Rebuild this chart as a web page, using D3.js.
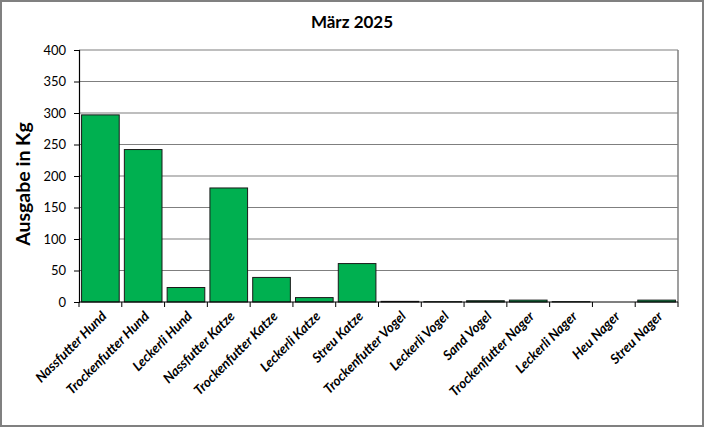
<!DOCTYPE html>
<html>
<head>
<meta charset="utf-8">
<script src="https://cdn.jsdelivr.net/npm/d3@7"></script>
<style>
  body { margin: 0; background: #fff; }
  svg { display: block; }
  text { font-family: Lato, "Open Sans", sans-serif; }
</style>
</head>
<body>
<svg id="chart" width="704" height="427"></svg>
<script>
// Kategorien und Werte (Kg)
const kategorien = [
  "Nassfutter Hund", "Trockenfutter Hund", "Leckerli Hund",
  "Nassfutter Katze", "Trockenfutter Katze", "Leckerli Katze", "Streu Katze",
  "Trockenfutter Vogel", "Leckerli Vogel", "Sand Vogel",
  "Trockenfutter Nager", "Leckerli Nager", "Heu Nager", "Streu Nager"
]
const werte = [297, 242, 23, 181, 39, 7, 61, 1, 0.5, 2, 3, 0.5, 0, 3]
const yTicks = [0, 50, 100, 150, 200, 250, 300, 350, 400]
const titel = "März 2025"
const yTitel = "Ausgabe in Kg"

const svg = d3.select("#chart")
const W = 704, H = 427
const m = { top: 50, right: 26, bottom: 125, left: 79 }
const iw = W - m.left - m.right
const ih = H - m.top - m.bottom

// aeusserer Rahmen
svg.append("rect")
  .attr("x", 1).attr("y", 1)
  .attr("width", W - 2).attr("height", H - 2)
  .attr("fill", "#fff").attr("stroke", "#808080").attr("stroke-width", 2)

const g = svg.append("g").attr("transform", `translate(${m.left},${m.top})`)

const x = d3.scaleBand().domain(kategorien).range([0, iw]).paddingInner(0.12).paddingOuter(0.06)
const y = d3.scaleLinear().domain([0, 400]).range([ih, 0])

// Gitterlinien
g.selectAll(".grid")
  .data(yTicks.filter(d => d > 0))
  .enter()
  .append("line")
  .attr("x1", 0).attr("x2", iw)
  .attr("y1", d => y(d)).attr("y2", d => y(d))
  .attr("stroke", "#7f7f7f").attr("stroke-width", 1.2)

// rechter Rand
g.append("line")
  .attr("x1", iw).attr("x2", iw).attr("y1", 0).attr("y2", ih)
  .attr("stroke", "#7f7f7f").attr("stroke-width", 1.5)

// Balken
g.selectAll(".bar")
  .data(werte)
  .enter()
  .append("rect")
  .attr("x", (d, i) => x(kategorien[i]))
  .attr("y", d => y(d))
  .attr("width", x.bandwidth())
  .attr("height", d => ih - y(d))
  .attr("fill", "#00b050")
  .attr("stroke", "#1a1a1a").attr("stroke-width", 1)

// y-Achse
const yAxis = g.append("g")
  .call(d3.axisLeft(y).tickValues(yTicks).tickSize(5).tickPadding(8))
yAxis.select(".domain").attr("stroke", "#000").attr("stroke-width", 1.2)
yAxis.selectAll(".tick line").attr("stroke", "#000")
yAxis.selectAll("text")
  .attr("font-size", 13).attr("fill", "#000")
  .style("font-family", "Lato, sans-serif")

// x-Achse mit Trennstrichen zwischen Kategorien
const xa = g.append("g").attr("transform", `translate(0,${ih})`)
xa.append("line").attr("x1", 0).attr("x2", iw).attr("stroke", "#000").attr("stroke-width", 1.2)
xa.selectAll(".sep")
  .data(d3.range(kategorien.length + 1))
  .enter()
  .append("line")
  .attr("x1", i => i * (iw / kategorien.length))
  .attr("x2", i => i * (iw / kategorien.length))
  .attr("y1", 0).attr("y2", 5)
  .attr("stroke", "#000")

xa.selectAll(".lbl")
  .data(kategorien)
  .enter()
  .append("text")
  .attr("transform", d => `translate(${x(d) + x.bandwidth() / 2 + 7},${15}) rotate(-45)`)
  .attr("text-anchor", "end")
  .attr("font-size", 13.5)
  .attr("font-weight", "bold")
  .attr("font-style", "italic")
  .attr("fill", "#000")
  .text(d => d)

// Titel
svg.append("text")
  .attr("x", 352).attr("y", 28)
  .attr("text-anchor", "middle")
  .attr("font-size", 17).attr("font-weight", "bold")
  .text(titel)

svg.append("text")
  .attr("transform", `translate(30,184) rotate(-90)`)
  .attr("text-anchor", "middle")
  .attr("font-size", 19.5).attr("font-weight", "bold")
  .text(yTitel)
</script>
</body>
</html>
